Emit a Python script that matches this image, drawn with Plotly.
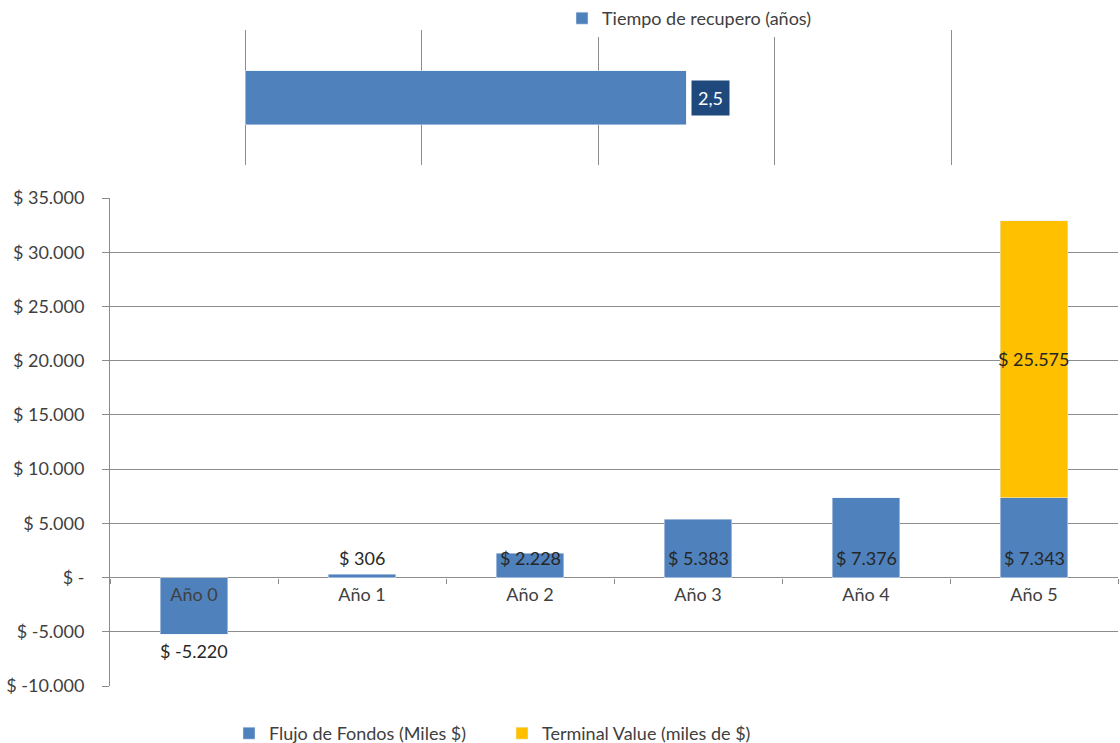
import plotly.graph_objects as go

# --- data ---
years = ["Año 0", "Año 1", "Año 2", "Año 3", "Año 4", "Año 5"]
flujo = [-5220, 306, 2228, 5383, 7376, 7343]
terminal = [None, None, None, None, None, 25575]
recupero = [2.5]
recupero_cat = ["Tiempo de recupero (años)"]
y_ticks = [-10000, -5000, 0, 5000, 10000, 15000, 20000, 25000, 30000, 35000]

BLUE = "#4F81BD"
GOLD = "#FFC000"
NAVY = "#1F497D"
GRID = "#8C8C8C"
TXT = "#404040"
LBL = "#262626"
FONT = "Lato"
FS = 18

W, H = 1120, 743


def money(v):
    if v == 0:
        return "$ -"
    return "$ " + f"{v:,}".replace(",", ".")


def px_x(p):
    return p / W


def px_y(p):
    return 1 - p / H


# bottom panel geometry
yb0, yb1 = px_y(686), px_y(198)
yr = [y_ticks[0], y_ticks[-1]]
zero_pos = yb0 + (0 - yr[0]) / (yr[1] - yr[0]) * (yb1 - yb0)

# top panel geometry: one unit = 176.5 px, a little headroom so the x=4 gridline is kept
top_range = [0, 4.03]
top_left = 245
top_right = top_left + 176.5 * top_range[1]

fig = go.Figure()

# top panel: payback period
fig.add_trace(go.Bar(
    x=recupero, y=recupero_cat, orientation="h",
    marker=dict(color=BLUE), width=0.4,
    name="Tiempo de recupero (años)",
    xaxis="x", yaxis="y", legend="legend2",
))

# bottom panel: cash flows
fig.add_trace(go.Bar(
    x=years, y=flujo, marker=dict(color=BLUE), width=0.4,
    name="Flujo de Fondos (Miles $)", xaxis="x2", yaxis="y2",
))
fig.add_trace(go.Bar(
    x=years, y=terminal, marker=dict(color=GOLD), width=0.4,
    name="Terminal Value (miles de $)", xaxis="x2", yaxis="y2",
))

annotations = []
for cat, v in zip(years, flujo):
    if v < 0:
        annotations.append(dict(x=cat, y=v, xref="x2", yref="y2", text=money(v),
                                showarrow=False, yanchor="middle", yshift=-17,
                                font=dict(family=FONT, size=FS, color=LBL)))
    else:
        annotations.append(dict(x=cat, y=0, xref="x2", yref="y2", text=money(v),
                                showarrow=False, yanchor="middle", yshift=20,
                                font=dict(family=FONT, size=FS, color=LBL)))
for cat, base, t in zip(years, flujo, terminal):
    if t is not None:
        annotations.append(dict(x=cat, y=base + t / 2, xref="x2", yref="y2", text=money(t),
                                showarrow=False, yanchor="middle",
                                font=dict(family=FONT, size=FS, color=LBL)))
for cat, v in zip(recupero_cat, recupero):
    annotations.append(dict(x=v, y=cat, xref="x", yref="y",
                            text=f"{v}".replace(".", ","), showarrow=False,
                            xanchor="left", xshift=5, bgcolor=NAVY, borderpad=6,
                            font=dict(family=FONT, size=FS, color="white")))

fig.update_layout(
    width=W, height=H,
    margin=dict(l=0, r=0, t=0, b=0, autoexpand=False),
    paper_bgcolor="white", plot_bgcolor="white",
    font=dict(family=FONT, size=FS, color=TXT),
    barmode="stack",
    showlegend=True,
    annotations=annotations,
    xaxis=dict(domain=[px_x(top_left), px_x(top_right)], range=top_range, dtick=1,
               showgrid=True, gridcolor=GRID, gridwidth=1,
               zeroline=True, zerolinecolor=GRID, zerolinewidth=1,
               showticklabels=False, anchor="y"),
    yaxis=dict(domain=[px_y(165), px_y(30)], showticklabels=False,
               showgrid=False, zeroline=False, anchor="x"),
    xaxis2=dict(domain=[px_x(110), px_x(1118)], type="category",
                anchor="free", position=zero_pos,
                showline=False, showgrid=False,
                ticks="outside", tickson="boundaries", ticklen=5,
                ticklabelstandoff=4,
                tickcolor=GRID, tickfont=dict(family=FONT, size=FS, color=TXT)),
    yaxis2=dict(domain=[yb0, yb1], range=yr, anchor="x2",
                tickvals=y_ticks, ticktext=[money(v) for v in y_ticks],
                showgrid=True, gridcolor=GRID, gridwidth=1,
                zeroline=False, showline=True, linecolor=GRID,
                ticks="outside", ticklen=7, tickcolor=GRID,
                ticklabelstandoff=14,
                tickfont=dict(family=FONT, size=FS, color=TXT)),
    legend=dict(orientation="h", x=px_x(229), xanchor="left",
                y=px_y(715), yanchor="top", entrywidth=228, entrywidthmode="pixels",
                font=dict(family=FONT, size=FS, color=TXT), traceorder="normal"),
    legend2=dict(orientation="h", x=px_x(562), xanchor="left",
                 y=1, yanchor="top",
                 font=dict(family=FONT, size=FS, color=TXT)),
)

fig.write_html("out.html")
